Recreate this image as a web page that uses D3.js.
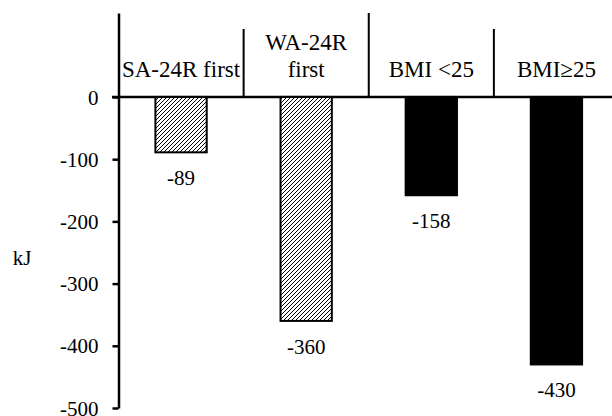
<!DOCTYPE html>
<html>
<head>
<meta charset="utf-8">
<script src="https://cdn.jsdelivr.net/npm/d3@7"></script>
<style>
  body { margin: 0; background: #fff; }
  svg text { font-family: "Liberation Serif", "Times New Roman", serif; fill: #000; }
</style>
</head>
<body>
<div id="chart"></div>
<script>
var svgWidth = 612;
var svgHeight = 416;
var serif = "'Liberation Serif', 'Times New Roman', serif";

// chart data
var categories = ["SA-24R first", "WA-24R first", "BMI <25", "BMI\u226525"];
var labelLines = [["SA-24R first"], ["WA-24R", "first"], ["BMI <25"], ["BMI\u226525"]];
var values = [-89, -360, -158, -430];
var hatched = [true, true, false, false];
var yTicks = [0, -100, -200, -300, -400, -500];
var yLabel = "kJ";

var svg = d3.select("#chart")
  .append("svg")
  .attr("width", svgWidth)
  .attr("height", svgHeight);

// hatch pattern for the first two bars
var defs = svg.append("defs");
var pat = defs.append("pattern")
  .attr("id", "hatch")
  .attr("patternUnits", "userSpaceOnUse")
  .attr("width", 4)
  .attr("height", 4);
pat.append("rect").attr("width", 4).attr("height", 4).attr("fill", "#fff");
pat.append("path")
  .attr("d", "M-1,1 l2,-2 M0,4 l4,-4 M3,5 l2,-2")
  .attr("stroke", "#000")
  .attr("stroke-width", 1);

// scales
var y = d3.scaleLinear()
  .domain([-500, 135])
  .range([408, 13]);

var x = d3.scaleBand()
  .domain(categories)
  .range([118.5, 619])
  .paddingInner(0)
  .paddingOuter(0);

var barW = x.bandwidth() * 0.41;

// hyphen instead of unicode minus, like the original
var fmt = d => String(d);

// zero line across the plot
svg.append("line")
  .attr("x1", 112)
  .attr("x2", svgWidth)
  .attr("y1", y(0))
  .attr("y2", y(0))
  .attr("stroke", "#000")
  .attr("stroke-width", 2.5);

// category dividers above the zero line
svg.selectAll(".divider")
  .data(categories.slice(1))
  .enter()
  .append("line")
  .attr("class", "divider")
  .attr("x1", d => x(d))
  .attr("x2", d => x(d))
  .attr("y1", (d, i) => i % 2 === 0 ? y(0) - 68 : y(0) - 84)
  .attr("y2", y(0))
  .attr("stroke", "#000")
  .attr("stroke-width", 2);

// y axis
var leftAxis = d3.axisLeft(y)
  .tickValues(yTicks)
  .tickSizeInner(6)
  .tickSizeOuter(0)
  .tickPadding(14)
  .tickFormat(fmt);

var yAxis = svg.append("g")
  .attr("transform", `translate(${x.range()[0]}, 0)`)
  .attr("font-family", serif)
  .attr("font-size", 21)
  .call(leftAxis);

yAxis.select(".domain").attr("stroke", "#000").attr("stroke-width", 2.5);
yAxis.selectAll(".tick line").attr("stroke", "#000").attr("stroke-width", 2.5);
yAxis.selectAll(".tick text")
  .style("font-family", serif)
  .style("font-size", "21px")
  .attr("dy", "0.34em")
  .attr("fill", "#000");

// bars
svg.selectAll(".bar")
  .data(values)
  .enter()
  .append("rect")
  .attr("class", "bar")
  .attr("x", (d, i) => x(categories[i]) + (x.bandwidth() - barW) / 2)
  .attr("y", y(0))
  .attr("width", barW)
  .attr("height", d => y(d) - y(0))
  .attr("fill", (d, i) => hatched[i] ? "url(#hatch)" : "#000")
  .attr("stroke", "#000")
  .attr("stroke-width", 2);

// value labels under bars
svg.selectAll(".val")
  .data(values)
  .enter()
  .append("text")
  .attr("class", "val")
  .attr("x", (d, i) => x(categories[i]) + x.bandwidth() / 2)
  .attr("y", d => y(d) + 33)
  .attr("text-anchor", "middle")
  .style("font-family", serif)
  .style("font-size", "21px")
  .text(fmt);

// category labels above the zero line
var catText = svg.selectAll(".cat")
  .data(labelLines)
  .enter()
  .append("text")
  .attr("class", "cat")
  .attr("text-anchor", "middle")
  .style("font-family", serif)
  .style("font-size", "23px")
  .attr("x", (d, i) => x(categories[i]) + x.bandwidth() / 2);

catText.selectAll("tspan")
  .data(d => d.map((t, k) => ({ t: t, k: k, n: d.length })))
  .enter()
  .append("tspan")
  .attr("x", function() { return d3.select(this.parentNode).attr("x"); })
  .attr("y", d => y(0) - 20 - (d.n - 1 - d.k) * 26.5)
  .text(d => d.t);

// axis title
svg.append("text")
  .attr("x", 22)
  .attr("y", 265)
  .attr("text-anchor", "middle")
  .style("font-family", serif)
  .style("font-size", "21px")
  .text(yLabel);
</script>
</body>
</html>
